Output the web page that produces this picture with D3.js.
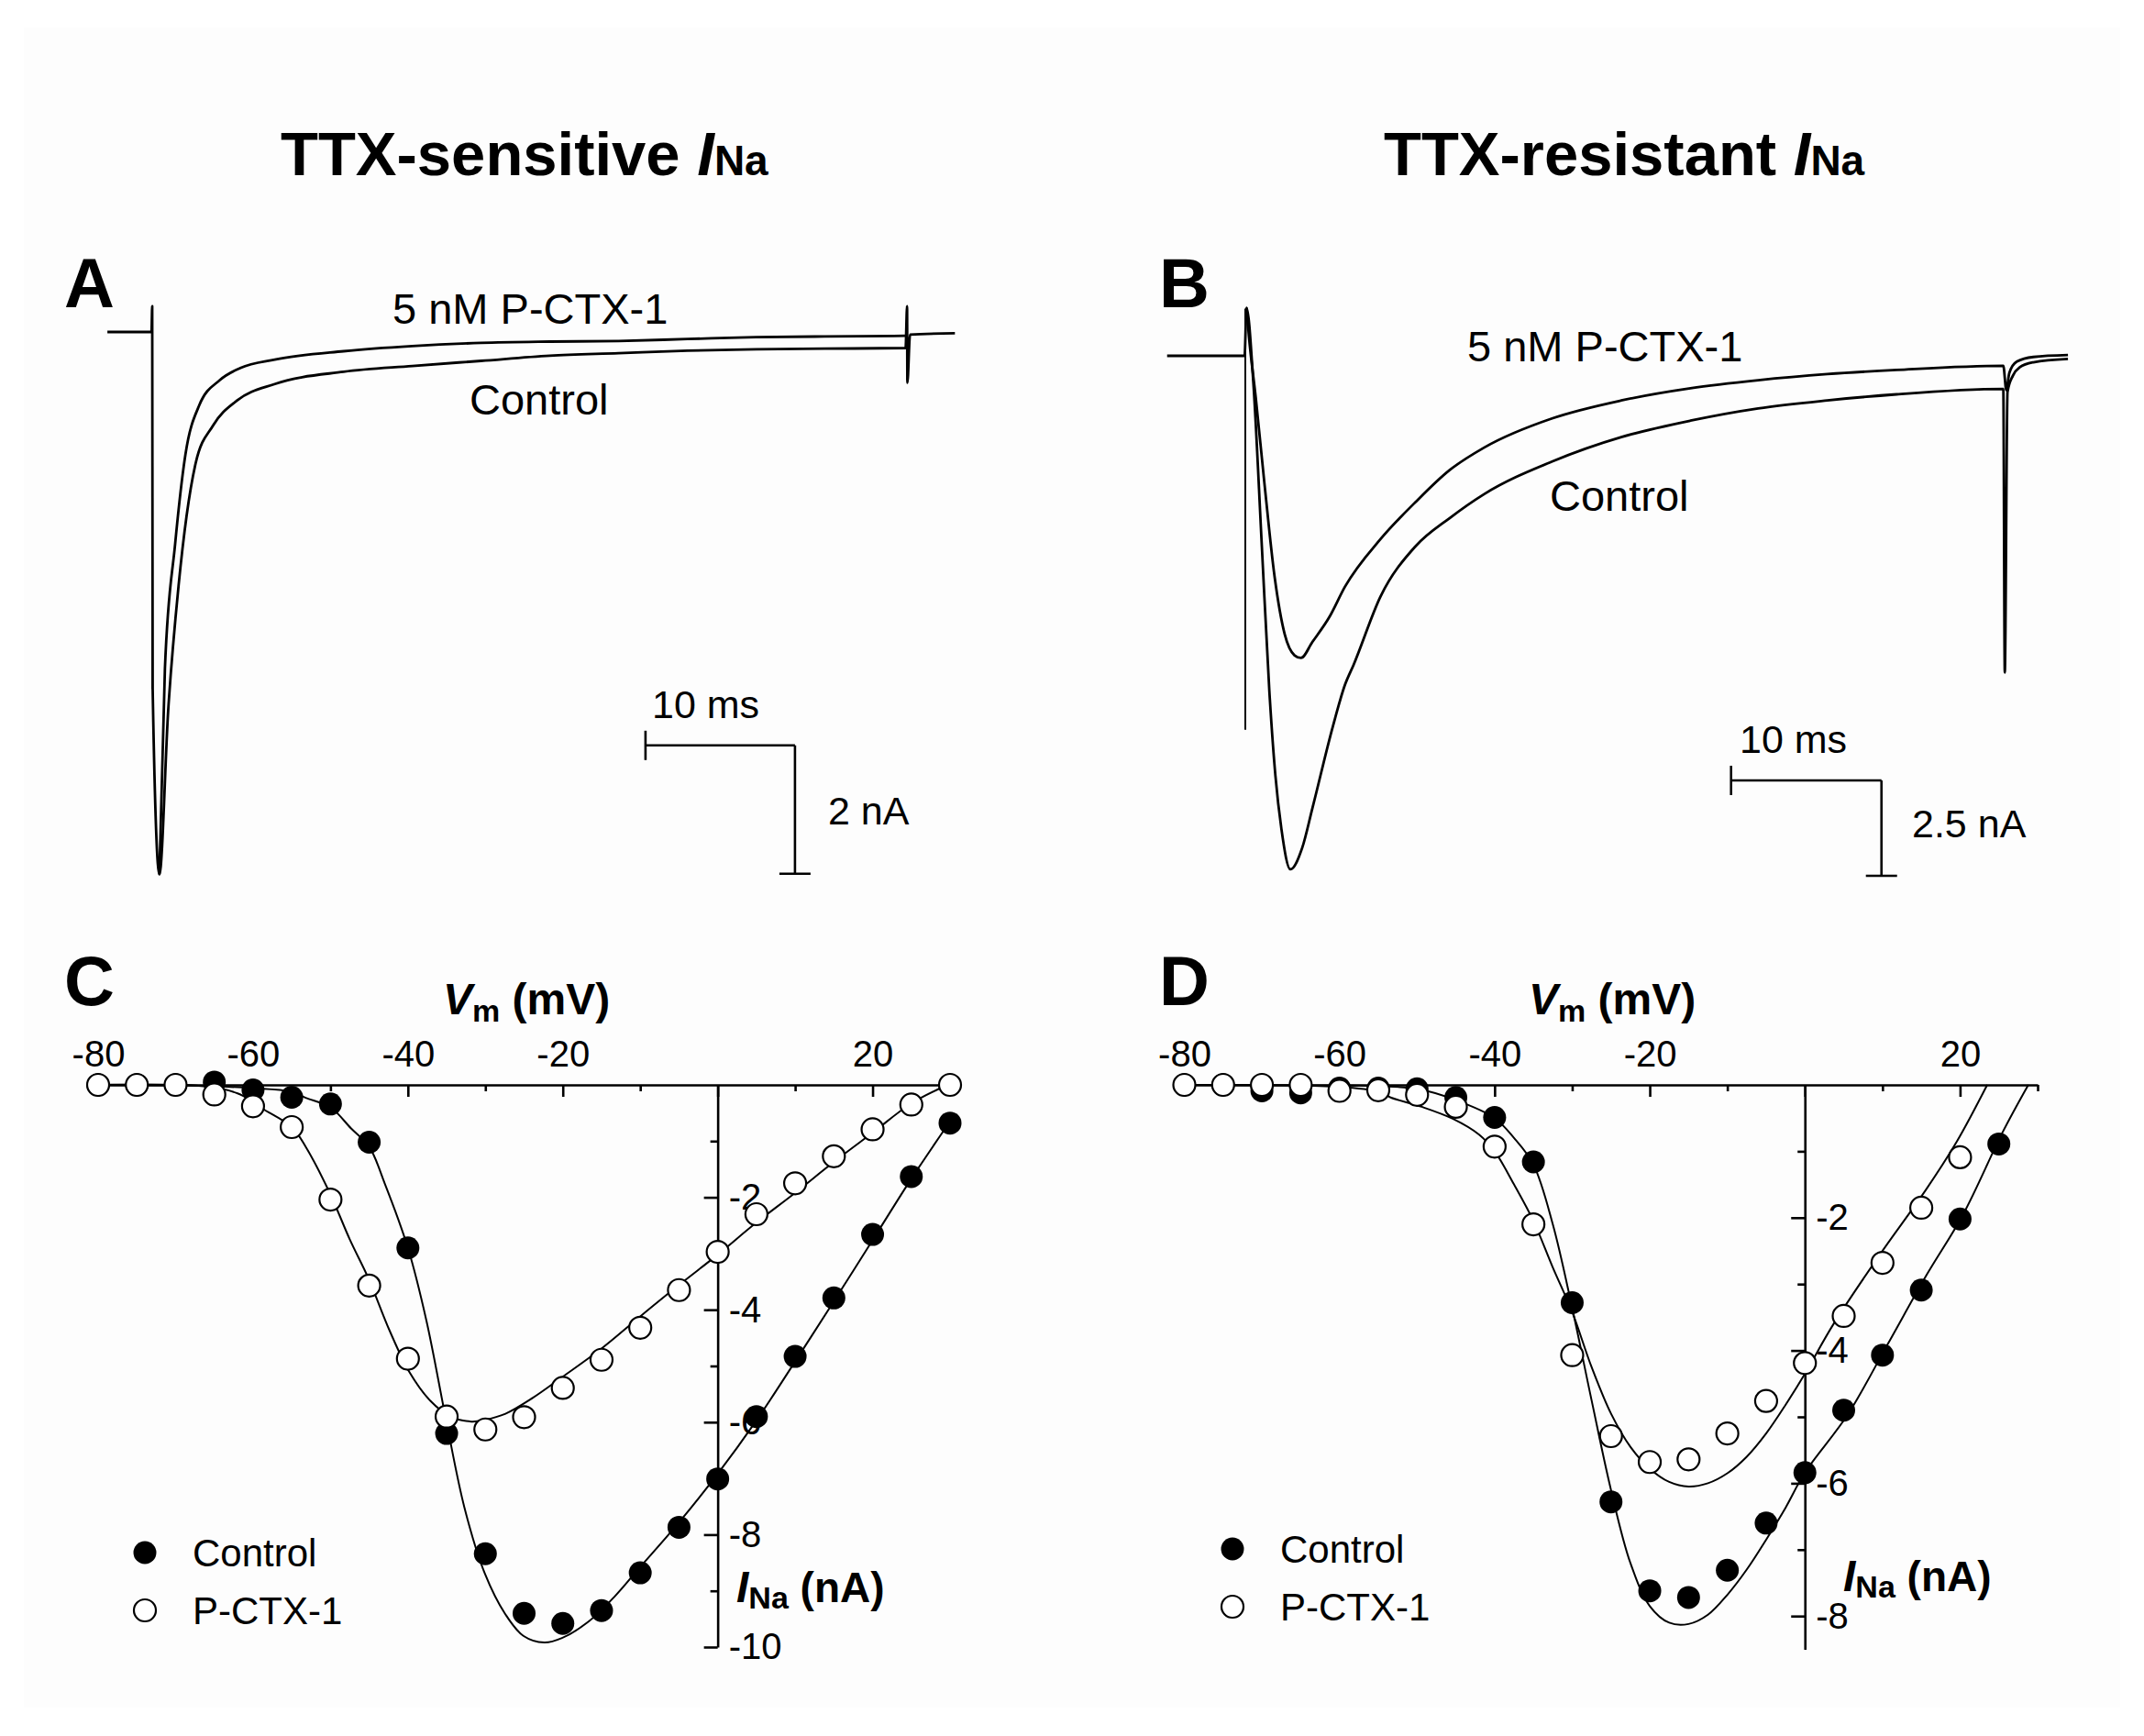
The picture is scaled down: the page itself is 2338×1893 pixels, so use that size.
<!DOCTYPE html>
<html>
<head>
<meta charset="utf-8">
<script src="https://cdn.jsdelivr.net/npm/d3@7"></script>
<style>
  body { margin: 0; background: #fff; }
  text { white-space: pre; }
</style>
</head>
<body>
<svg id="fig" width="2338" height="1893"></svg>
<script>
// ---------------- DATA ----------------
// Panel A: TTX-sensitive current traces (time ms, current nA)
const traceA_control = [[-3.0,0],[-0.05,0],[0,0.4],[0.03,-5.56],[0.48,-8.45],[1.07,-5.89],[1.76,-3.96],[2.91,-2.04],[4.06,-1.46],[5.66,-1.07],[8.2,-0.81],[12.8,-0.62],[17.4,-0.53],[22,-0.45],[26.6,-0.37],[31.2,-0.33],[35.8,-0.29],[40.4,-0.27],[45,-0.26],[50.4,-0.25],[50.5,0.4],[50.52,-0.79],[50.7,-0.04],[53.7,-0.02]];
const traceA_ptx = [[0.48,-8.45],[0.85,-5.24],[1.53,-3.31],[2.22,-1.91],[3.15,-1.14],[4.52,-0.75],[5.9,-0.56],[8.2,-0.43],[12.8,-0.30],[17.4,-0.22],[22,-0.17],[26.6,-0.15],[31.2,-0.14],[35.8,-0.11],[40.4,-0.08],[45,-0.07],[50.4,-0.06]];
const artifactA = [[0,0.4],[0,-5.56]];
const scaleBarA = {t0: 33.0, t1: 43.0, i0: -6.44, i1: -8.44, tLabel: "10 ms", iLabel: "2 nA"};

// Panel B: TTX-resistant current traces
const traceB_control = [[-5.2,0],[-0.05,0],[0.08,1.26],[0.53,-0.68],[1.1,-5.0],[1.6,-8.8],[2.0,-11.0],[2.4,-12.4],[3.0,-13.46],[3.78,-12.9],[4.46,-11.86],[5.83,-9.7],[6.63,-8.62],[7.2,-8.1],[9.0,-6.3],[11.3,-5.0],[13.6,-4.25],[15.9,-3.62],[20.4,-2.77],[25.0,-2.13],[29.6,-1.7],[34.1,-1.38],[38.7,-1.17],[43.3,-1.01],[50.4,-0.87],[50.5,-8.3],[50.68,-0.95],[51.04,-0.52],[51.5,-0.3],[52.4,-0.17],[54.7,-0.08]];
const traceB_ptx = [[0.08,1.26],[0.24,0.51],[0.69,-1.08],[1.26,-3.3],[1.95,-5.8],[2.62,-7.3],[3.27,-7.85],[3.7,-7.92],[4.46,-7.5],[5.6,-6.84],[6.63,-6.05],[9.0,-4.8],[11.3,-3.84],[13.6,-2.99],[15.9,-2.4],[20.4,-1.64],[25.0,-1.17],[29.6,-0.85],[34.1,-0.64],[38.7,-0.48],[43.3,-0.37],[50.4,-0.26],[50.6,-0.9],[50.8,-0.45],[51.3,-0.15],[52.4,-0.03],[54.7,0.02]];
const artifactB = [[0,1.24],[0,-9.8]];
const scaleBarB = {t0: 32.3, t1: 42.3, i0: -11.13, i1: -13.63, tLabel: "10 ms", iLabel: "2.5 nA"};

// Panel C: I-V, TTX-sensitive
const vmC_control = [-80,-75,-70,-65,-60,-55,-50,-45,-40,-35,-30,-25,-20,-15,-10,-5,0,5,10,15,20,25,30];
const iC_control  = [0,0,0,0.05,-0.09,-0.22,-0.34,-1.02,-2.9,-6.2,-8.34,-9.4,-9.58,-9.35,-8.68,-7.87,-7.01,-5.9,-4.83,-3.79,-2.66,-1.63,-0.68];
const vmC_ptx = [-80,-75,-70,-65,-60,-55,-50,-45,-40,-35,-30,-25,-20,-15,-10,-5,0,5,10,15,20,25,30];
const iC_ptx  = [0,0,0,-0.17,-0.38,-0.75,-2.04,-3.57,-4.87,-5.9,-6.13,-5.91,-5.39,-4.89,-4.32,-3.65,-2.97,-2.3,-1.75,-1.27,-0.79,-0.35,0];
const fitC_control = [[-80,0],[-66,-0.02],[-60,-0.06],[-55.2,-0.12],[-53.2,-0.23],[-50,-0.4],[-47.3,-0.78],[-45,-1.1],[-43,-1.75],[-40,-2.9],[-37.6,-4.2],[-35.1,-5.94],[-32.7,-7.52],[-30.1,-8.68],[-27.4,-9.42],[-25.1,-9.8],[-22.4,-9.92],[-20.1,-9.84],[-16.8,-9.56],[-13.3,-9.1],[-10.1,-8.59],[-5.1,-7.8],[0,-6.92],[4.9,-5.99],[10,-4.92],[15,-3.85],[20.1,-2.74],[25,-1.67],[29.5,-0.75]];
const fitC_ptx = [[-80,0],[-66,-0.03],[-62,-0.15],[-60,-0.3],[-58.8,-0.42],[-55,-0.75],[-53.2,-1.1],[-50.1,-1.92],[-47.5,-2.75],[-45.1,-3.44],[-42.4,-4.36],[-39.8,-5.11],[-37.1,-5.62],[-34.5,-5.9],[-31.8,-5.99],[-30.1,-5.96],[-27.4,-5.85],[-23.9,-5.57],[-20.1,-5.2],[-15,-4.69],[-10.1,-4.13],[-5.1,-3.57],[0,-3.02],[4.9,-2.46],[10,-1.92],[15,-1.37],[20.1,-0.84],[25,-0.33],[30,0.02]];

// Panel D: I-V, TTX-resistant
const vmD_control = [-80,-75,-70,-65,-60,-55,-50,-45,-40,-35,-30,-25,-20,-15,-10,-5,0,5,10,15,20,25];
const iD_control  = [0,0,-0.09,-0.12,-0.05,-0.05,-0.06,-0.19,-0.49,-1.16,-3.28,-6.28,-7.62,-7.72,-7.31,-6.6,-5.84,-4.9,-4.07,-3.09,-2.02,-0.89];
const vmD_ptx = [-80,-75,-70,-65,-60,-55,-50,-45,-40,-35,-30,-25,-20,-15,-10,-5,0,5,10,15,20];
const iD_ptx  = [0,0,0,0,-0.09,-0.08,-0.15,-0.33,-0.93,-2.1,-4.07,-5.29,-5.68,-5.64,-5.25,-4.76,-4.19,-3.48,-2.68,-1.85,-1.09];
const fitD_control = [[-80,0],[-60,-0.01],[-55,-0.02],[-50,-0.06],[-45,-0.23],[-40,-0.5],[-37.5,-0.8],[-35,-1.2],[-32.5,-2.1],[-30,-3.36],[-27.5,-4.75],[-25,-6.1],[-22.5,-7.2],[-20,-7.85],[-17.5,-8.1],[-15,-8.12],[-12.5,-7.98],[-10,-7.68],[-7.5,-7.3],[-5,-6.85],[-2.5,-6.37],[0,-5.84],[5.5,-4.97],[10.6,-3.92],[15.7,-2.86],[20.4,-1.95],[25.5,-0.71],[28.8,0]];
const fitD_ptx = [[-80,0],[-60,-0.03],[-55,-0.1],[-53.4,-0.19],[-49.4,-0.33],[-45.4,-0.51],[-42,-0.75],[-40,-1.0],[-37.5,-1.5],[-35,-2.05],[-32.5,-2.75],[-30,-3.42],[-27.5,-4.25],[-25,-4.95],[-22.5,-5.45],[-20,-5.78],[-17.5,-5.98],[-15,-6.05],[-12.5,-6.0],[-10,-5.85],[-7.5,-5.6],[-5,-5.25],[-2.5,-4.82],[0,-4.35],[3.7,-3.6],[9.7,-2.55],[15.6,-1.58],[19.6,-0.85],[23.5,0]];

// Axis ticks
const xMajorTicks = [-80,-60,-40,-20,0,20];
const xMinorTicks = [-70,-50,-30,-10,10,30];
const yMajorC = [-2,-4,-6,-8,-10];
const yMinorC = [-1,-3,-5,-7,-9];
const yMajorD = [-2,-4,-6,-8];
const yMinorD = [-1,-3,-5,-7];

const legendLabels = ["Control", "P-CTX-1"];
const titles = ["TTX-sensitive ", "TTX-resistant "];

// ---------------- DRAW ----------------
const FONT = '"Liberation Sans", Arial, Helvetica, sans-serif';
const svg = d3.select("#fig");
svg.append("rect").attr("width", 2338).attr("height", 1893).attr("fill", "#fff");
svg.append("rect").attr("x", 26).attr("y", 30).attr("width", 2286).attr("height", 1832).attr("fill", "#fdfdfd");

function rich(x, y, parts, anchor) {
  const t = svg.append("text").attr("x", x).attr("y", y).attr("font-family", FONT)
    .attr("text-anchor", anchor || "start").attr("fill", "#000");
  parts.forEach(p => {
    t.append("tspan").text(p.text).attr("font-size", p.size)
      .attr("font-weight", p.weight || "normal").attr("font-style", p.style || "normal")
      .attr("dy", p.dy || 0);
  });
  return t;
}
function plain(x, y, s, size, weight, anchor) {
  return svg.append("text").attr("x", x).attr("y", y).attr("font-family", FONT)
    .attr("font-size", size).attr("font-weight", weight || "normal")
    .attr("text-anchor", anchor || "start").attr("fill", "#000").text(s);
}

// Titles
[[306, titles[0]], [1509, titles[1]]].forEach(([x, s]) => {
  rich(x, 191, [
    {text: s, size: 67, weight: "bold"},
    {text: "I", size: 67, weight: "bold", style: "italic"},
    {text: "Na", size: 46, weight: "bold"}
  ]);
});

// Panel letters
plain(70, 335, "A", 76, "bold");
plain(1264, 335, "B", 76, "bold");
plain(70, 1096, "C", 76, "bold");
plain(1264, 1096, "D", 76, "bold");

// ---- Panels A & B traces ----
const xA = d3.scaleLinear().domain([0, 50]).range([166, 981]);
const yA = d3.scaleLinear().domain([0, -2]).range([362, 502]);
const xB = d3.scaleLinear().domain([0, 50]).range([1358, 2178]);
const yB = d3.scaleLinear().domain([0, -2.5]).range([388, 492]);

function drawTraces(x, y, arrays, artifact, bar, labels) {
  const straight = d3.line().x(d => x(d[0])).y(d => y(d[1]));
  const smooth = d3.line().x(d => x(d[0])).y(d => y(d[1])).curve(d3.curveMonotoneX);
  svg.append("path").datum(artifact).attr("d", straight).attr("fill", "none")
    .attr("stroke", "#000").attr("stroke-width", 2);
  arrays.forEach(a => {
    svg.append("path").datum(a).attr("d", smooth).attr("fill", "none")
      .attr("stroke", "#000").attr("stroke-width", 2.8).attr("stroke-linejoin", "round");
  });
  // scale bar
  const g = svg.append("g").attr("stroke", "#000").attr("stroke-width", 2.6).attr("fill", "none");
  g.append("line").attr("x1", x(bar.t0)).attr("x2", x(bar.t1)).attr("y1", y(bar.i0)).attr("y2", y(bar.i0));
  g.append("line").attr("x1", x(bar.t0)).attr("x2", x(bar.t0)).attr("y1", y(bar.i0) - 16).attr("y2", y(bar.i0) + 16);
  g.append("line").attr("x1", x(bar.t1)).attr("x2", x(bar.t1)).attr("y1", y(bar.i0)).attr("y2", y(bar.i1));
  g.append("line").attr("x1", x(bar.t1) - 17).attr("x2", x(bar.t1) + 17).attr("y1", y(bar.i1)).attr("y2", y(bar.i1));
  labels.forEach(l => plain(l[0], l[1], l[2], l[3]));
}

drawTraces(xA, yA, [traceA_control, traceA_ptx], artifactA, scaleBarA, [
  [428, 353, "5 nM P-CTX-1", 47], [512, 452, "Control", 47],
  [711, 783, scaleBarA.tLabel, 43], [903, 899, scaleBarA.iLabel, 43]
]);
drawTraces(xB, yB, [traceB_control, traceB_ptx], artifactB, scaleBarB, [
  [1600, 394, "5 nM P-CTX-1", 47], [1690, 557, "Control", 47],
  [1897, 821, scaleBarB.tLabel, 43], [2085, 913, scaleBarB.iLabel, 43]
]);

// ---- Panels C & D: I-V ----
function ivPanel(cfg) {
  const {x, y, yMaj, yMin, vmCtl, iCtl, vmPtx, iPtx, fitCtl, fitPtx, titleX, iLabelX, iLabelY, legX, legY} = cfg;
  const g = svg.append("g");
  const styleAxis = sel => {
    sel.attr("font-family", FONT).attr("font-size", 40);
    sel.selectAll(".domain").attr("stroke", "#000").attr("stroke-width", 2.6);
    sel.selectAll(".tick line").attr("stroke", "#000").attr("stroke-width", 2.6);
    sel.selectAll(".tick text").attr("fill", "#000");
  };
  // x-axis (labels above, ticks below)
  g.append("g").attr("transform", `translate(0,${y(0)})`)
    .call(d3.axisTop(x).tickValues(xMajorTicks).tickSize(-13).tickSizeOuter(0).tickPadding(20)
      .tickFormat(d => d === 0 ? "" : String(d)))
    .call(styleAxis);
  g.append("g").attr("transform", `translate(0,${y(0)})`)
    .call(d3.axisTop(x).tickValues(xMinorTicks).tickSize(-7).tickSizeOuter(0).tickFormat(() => ""))
    .call(styleAxis).call(s => s.select(".domain").remove());
  // y-axis at V = 0 (ticks left, labels right)
  g.append("g").attr("transform", `translate(${x(0)},0)`)
    .call(d3.axisRight(y).tickValues(yMaj).tickSize(-15).tickSizeOuter(0).tickPadding(12)
      .tickFormat(d => String(d)))
    .call(styleAxis);
  g.append("g").attr("transform", `translate(${x(0)},0)`)
    .call(d3.axisRight(y).tickValues(yMin).tickSize(-8).tickSizeOuter(0).tickFormat(() => ""))
    .call(styleAxis).call(s => s.select(".domain").remove());

  // fitted curves
  const line = d3.line().x(d => x(d[0])).y(d => y(d[1])).curve(d3.curveCatmullRom.alpha(0.5));
  [fitCtl, fitPtx].forEach(f => g.append("path").datum(f).attr("d", line)
    .attr("fill", "none").attr("stroke", "#000").attr("stroke-width", 2));

  // points
  g.selectAll(null).data(vmCtl.map((v, i) => [v, iCtl[i]])).join("circle")
    .attr("cx", d => x(d[0])).attr("cy", d => y(d[1])).attr("r", 12.5).attr("fill", "#000");
  g.selectAll(null).data(vmPtx.map((v, i) => [v, iPtx[i]])).join("circle")
    .attr("cx", d => x(d[0])).attr("cy", d => y(d[1])).attr("r", 12)
    .attr("fill", "#fff").attr("stroke", "#000").attr("stroke-width", 2.2);

  // axis titles
  rich(titleX, 1106, [
    {text: "V", size: 48, weight: "bold", style: "italic"},
    {text: "m", size: 34, weight: "bold", dy: 8},
    {text: " (mV)", size: 48, weight: "bold", dy: -8}
  ]);
  rich(iLabelX, iLabelY, [
    {text: "I", size: 48, weight: "bold", style: "italic"},
    {text: "Na", size: 34, weight: "bold", dy: 7},
    {text: " (nA)", size: 46, weight: "bold", dy: -7}
  ]);

  // legend
  g.append("circle").attr("cx", legX).attr("cy", legY).attr("r", 12.5).attr("fill", "#000");
  g.append("circle").attr("cx", legX).attr("cy", legY + 63).attr("r", 12)
    .attr("fill", "#fff").attr("stroke", "#000").attr("stroke-width", 2.2);
  plain(legX + 52, legY + 15, legendLabels[0], 42);
  plain(legX + 52, legY + 78, legendLabels[1], 42);
}

ivPanel({
  x: d3.scaleLinear().domain([-80, 30]).range([107, 1036]),
  y: d3.scaleLinear().domain([0, -10]).range([1183, 1796]),
  yMaj: yMajorC, yMin: yMinorC,
  vmCtl: vmC_control, iCtl: iC_control, vmPtx: vmC_ptx, iPtx: iC_ptx,
  fitCtl: fitC_control, fitPtx: fitC_ptx,
  titleX: 483, iLabelX: 803, iLabelY: 1747, legX: 158, legY: 1693
});
ivPanel({
  x: d3.scaleLinear().domain([-80, 30]).range([1291.5, 2222]),
  y: d3.scaleLinear().domain([0, -8.5]).range([1183, 1798.4]),
  yMaj: yMajorD, yMin: yMinorD,
  vmCtl: vmD_control, iCtl: iD_control, vmPtx: vmD_ptx, iPtx: iD_ptx,
  fitCtl: fitD_control, fitPtx: fitD_ptx,
  titleX: 1667, iLabelX: 2010, iLabelY: 1735, legX: 1344, legY: 1689
});
</script>
</body>
</html>
